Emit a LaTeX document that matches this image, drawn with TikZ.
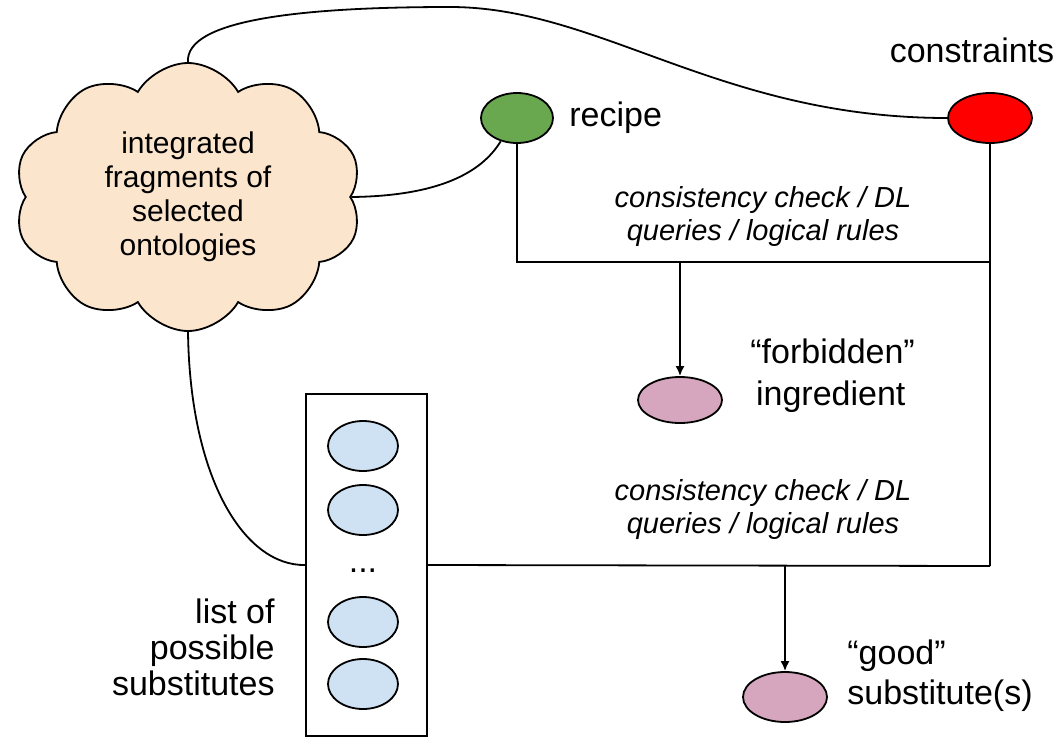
\documentclass[tikz,border=0pt]{standalone}
\usepackage{fontspec}
\setmainfont{Liberation Sans}
\usepackage{xcolor}
\usepackage{tikz}
\usetikzlibrary{shapes.geometric, shapes.symbols, arrows.meta, positioning}

\definecolor{cloudfill}{RGB}{252,229,205}
\definecolor{recipegreen}{RGB}{106,168,79}
\definecolor{constrred}{RGB}{255,0,0}
\definecolor{ingrpink}{RGB}{213,166,189}
\definecolor{subblue}{RGB}{207,226,243}

\tikzset{
  oval/.style={ellipse, draw, line width=0.9pt, minimum width=42pt, minimum height=25pt, inner sep=0pt},
  lbl/.style={font=\fontsize{17}{20}\selectfont, inner sep=0pt},
  checktext/.style={font=\fontsize{14.5}{16.5}\selectfont\itshape, align=center},
  wire/.style={line width=0.9pt}
}

\begin{document}
\begin{tikzpicture}[x=0.5pt, y=-0.5pt]
\useasboundingbox (0,0) rectangle (1060,740);

\node (onto) [cloud, cloud puffs=10, cloud puff arc=120, draw, line width=0.9pt, fill=cloudfill,
  minimum width=174pt, minimum height=134pt, inner sep=0pt, align=center,
  font=\fontsize{15}{17}\selectfont] at (188,197)
  {integrated\\fragments of\\selected\\ontologies};

\node (recipe) [oval, fill=recipegreen, minimum width=36pt] at (517,118) {};
\node (recipelbl) [lbl, anchor=west] at (569,118) {recipe};
\node (constr) [oval, fill=constrred] at (990,118) {};
\node (constrlbl) [lbl] at (972,50) {constraints};

\node (check1) [checktext] at (763,216) {consistency check / DL\\queries / logical rules};
\node (forbid) [oval, fill=ingrpink, minimum height=23pt] at (680,400) {};
\node (forbidlbl) [lbl, anchor=west, align=left, font=\fontsize{17}{21}\selectfont] at (750,376) {“forbidden”\\ \,ingredient};

\node (list) [rectangle, draw, line width=0.9pt, minimum width=60.5pt, minimum height=171pt] at (366.5,565) {};
\node (sub1) [oval, fill=subblue, minimum width=35pt] at (363,446) {};
\node (sub2) [oval, fill=subblue, minimum width=35pt] at (363,510) {};
\node (dots) [font=\fontsize{17}{20}\selectfont] at (363,571) {...};
\node (sub3) [oval, fill=subblue, minimum width=35pt] at (363,622) {};
\node (sub4) [oval, fill=subblue, minimum width=35pt] at (363,684) {};
\node (listlbl) [lbl, anchor=east, align=right, font=\fontsize{17}{18}\selectfont] at (275,647) {list of\\possible\\substitutes};

\node (check2) [checktext] at (763,509) {consistency check / DL\\queries / logical rules};
\node (good) [oval, fill=ingrpink] at (785,697) {};
\node (goodlbl) [lbl, anchor=west, align=left] at (847,676) {“good”\\substitute(s)};

\coordinate (j1) at (990,262);
\coordinate (j2) at (990,566);

\draw [wire] (onto.north) .. controls (185,20) and (300,7) .. (450,7)
  .. controls (600,7) and (720,118) .. (constr.west);
\draw [wire] (onto.east) .. controls (440,196) and (482,172) .. (recipe.235);
\draw [wire] (recipe.south) |- (j1);
\draw [wire] (constr.south) -- (j2);
\draw [wire, -{Latex[length=5pt,width=4.5pt]}] (forbid |- j1) -- (forbid.north);
\draw [wire] (onto.south) .. controls (190,480) and (245,566) .. (list.west);
\draw [wire] (list.east) -- (j2);
\draw [wire, -{Latex[length=5pt,width=4.5pt]}] (good |- j2) -- (good.north);
\end{tikzpicture}
\end{document}
